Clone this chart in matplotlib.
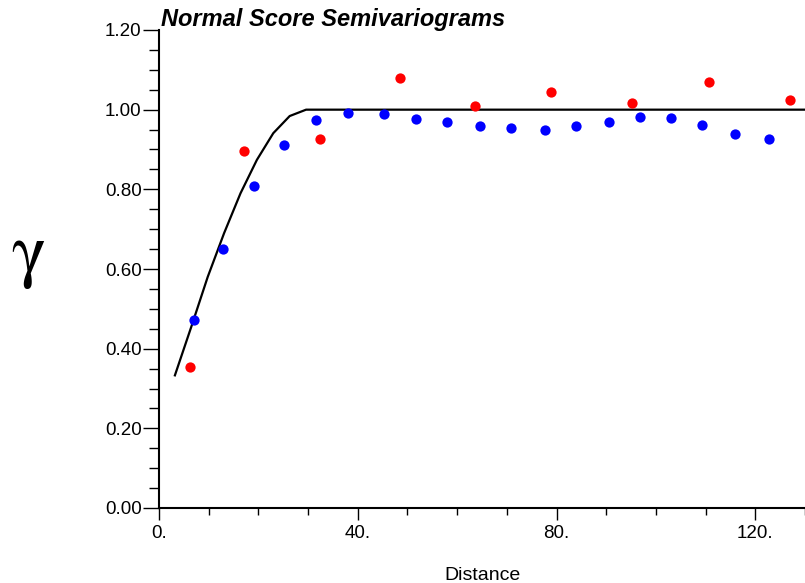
import matplotlib
matplotlib.use("Agg")
import matplotlib.pyplot as plt
from matplotlib.ticker import MultipleLocator, FixedLocator

# experimental semivariogram points (blue)
blue_x = [7.1, 12.8, 19.1, 25.2, 31.6, 38.0, 45.2, 51.7, 58.0, 64.6, 70.9, 77.6,
          83.9, 90.5, 96.7, 103.1, 109.3, 116.0, 122.8]
blue_y = [0.473, 0.649, 0.809, 0.912, 0.973, 0.991, 0.989, 0.976, 0.969, 0.959,
          0.955, 0.948, 0.960, 0.969, 0.981, 0.978, 0.962, 0.938, 0.927]

# second set (red)
red_x = [6.2, 17.1, 32.4, 48.5, 63.6, 78.8, 95.1, 110.7, 126.9]
red_y = [0.354, 0.896, 0.927, 1.079, 1.010, 1.044, 1.016, 1.069, 1.025]

# fitted model (black line)
model_x = [3.2, 6.5, 9.8, 13.1, 16.4, 19.7, 23.0, 26.3, 29.6, 130.0]
model_y = [0.333, 0.455, 0.58, 0.69, 0.79, 0.874, 0.941, 0.984, 1.0, 1.0]

xticks = [0, 40, 80, 120]
xtick_labels = ["0.", "40.", "80.", "120."]
yticks = [0.0, 0.2, 0.4, 0.6, 0.8, 1.0, 1.2]
ytick_labels = ["0.00", "0.20", "0.40", "0.60", "0.80", "1.00", "1.20"]

plt.rcParams["font.family"] = ["Liberation Sans", "DejaVu Sans"]
plt.rcParams["mathtext.fontset"] = "stix"

fig = plt.figure(figsize=(8.05, 5.83), dpi=100)
ax = fig.add_axes([159 / 805, 75 / 583, 646 / 805, 478 / 583])

ax.plot(model_x, model_y, color="black", lw=1.6, zorder=2, clip_on=False)
ax.plot(blue_x, blue_y, "o", color="#0000ff", ms=7.4, mec="none", zorder=3)
ax.plot(red_x, red_y, "o", color="#ff0000", ms=7.4, mec="none", zorder=3)

ax.set_xlim(0, 130)
ax.set_ylim(0, 1.2)

ax.xaxis.set_major_locator(FixedLocator(xticks))
ax.set_xticklabels(xtick_labels)
ax.xaxis.set_minor_locator(MultipleLocator(10))
ax.yaxis.set_major_locator(FixedLocator(yticks))
ax.set_yticklabels(ytick_labels)
ax.yaxis.set_minor_locator(MultipleLocator(0.05))

ax.tick_params(axis="x", which="major", direction="out", length=8.6, width=1.0,
               labelsize=13.5, pad=4)
ax.tick_params(axis="x", which="minor", direction="out", length=5, width=1.0)
ax.tick_params(axis="y", which="major", direction="out", length=11.5, width=1.0,
               labelsize=13.5, pad=1)
ax.tick_params(axis="y", which="minor", direction="out", length=7.2, width=1.0)

for s in ["top", "right"]:
    ax.spines[s].set_visible(False)
for s in ["left", "bottom"]:
    ax.spines[s].set_linewidth(1.5)

ax.set_xlabel("Distance", fontsize=14, labelpad=18)

fig.text(161 / 805, 1 - 26 / 583, "Normal Score Semivariograms", fontsize=17,
         fontweight="bold", fontstyle="italic", ha="left", va="baseline")

fig.text(28 / 805, 1 - 258 / 583, r"$\mathrm{\gamma}$", fontsize=52,
         ha="center", va="center")

fig.savefig("out.png", dpi=100)
